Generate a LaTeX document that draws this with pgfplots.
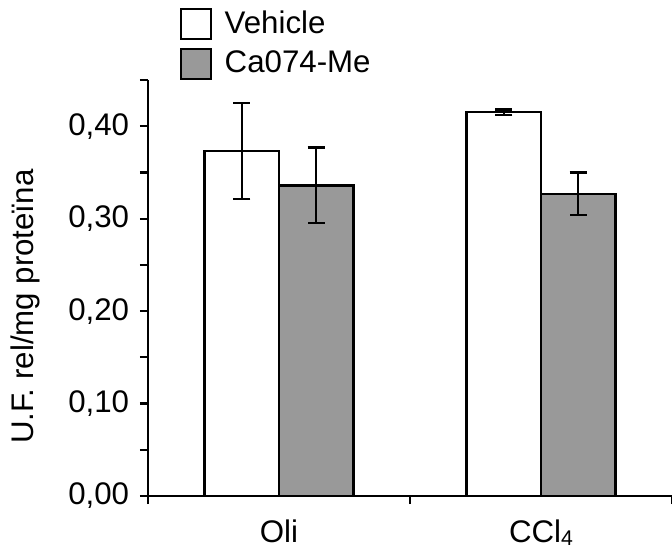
\documentclass[border=0pt]{standalone}
\usepackage{fontspec}
\setmainfont{Liberation Sans}
\usepackage{pgfplots}
\pgfplotsset{compat=1.18}
\begin{document}
\fontsize{12.5}{15}\selectfont
\begin{tikzpicture}
\begin{axis}[
  at={(0,0)}, anchor=south west,
  scale only axis, width=209.6pt, height=166.4pt,
  xmin=-0.5, xmax=1.5, ymin=0, ymax=0.45,
  axis lines=left, axis line style={-, line width=0.9pt},
  tick align=outside, major tick length=3.2pt, minor tick length=3.2pt,
  every tick/.style={black, line width=0.9pt},
  ytick={0,0.1,0.2,0.3,0.4},
  minor ytick={0.05,0.15,0.25,0.35,0.45},
  xtick={-0.5,0.5,1.5}, xticklabels={},
  extra x ticks={0,1},
  extra x tick labels={Oli, CCl\raisebox{-1.2pt}{\fontsize{8.5}{10}\selectfont 4}},
  extra x tick style={major tick length=0pt, xticklabel style={yshift=-5pt}},
  /pgf/number format/.cd, fixed, fixed zerofill, precision=2, use comma, assume math mode=true,
  /pgfplots/.cd,
  ylabel={U.F. rel/mg proteïna},
  ylabel style={at={(ticklabel cs:0.464)}, xshift=-1.5pt, yshift=2.8pt},
  tick label style={font=\fontsize{12.5}{15}\selectfont},
  label style={font=\fontsize{12.5}{15}\selectfont},
  legend style={draw=none, fill=none, at={(rel axis cs:0.061,1.173)}, anchor=north west,
    inner sep=0pt, outer sep=0pt, row sep=3pt, font=\fontsize{12.5}{15}\selectfont,
    nodes={inner sep=1pt}, /tikz/every odd column/.append style={column sep=4pt}},
  legend cell align=left,
  legend image code/.code={\draw[#1, line width=0.9pt] (0pt,-6pt) rectangle (12pt,6pt);},
  error bars/y dir=both, error bars/y explicit,
  error bars/error bar style={line width=0.9pt, black},
  error bars/error mark options={rotate=90, mark size=3.4pt, line width=0.9pt, black},
]
\addplot[ybar, bar width=0.284, bar shift=0, draw=black, fill=white, line width=0.9pt]
  coordinates {(-0.142,0.373) +- (0,0.052) (0.858,0.415) +- (0,0.003)};
\addlegendentry{Vehicle}
\addplot[ybar, bar width=0.284, bar shift=0, draw=black, fill=black!40, line width=0.9pt]
  coordinates {(0.142,0.336) +- (0,0.041) (1.142,0.327) +- (0,0.023)};
\addlegendentry{Ca074-Me}
\end{axis}
\pgfresetboundingbox
\path (-59.2pt,-22.4pt) rectangle (209.6pt,198.4pt);
\end{tikzpicture}
\end{document}
